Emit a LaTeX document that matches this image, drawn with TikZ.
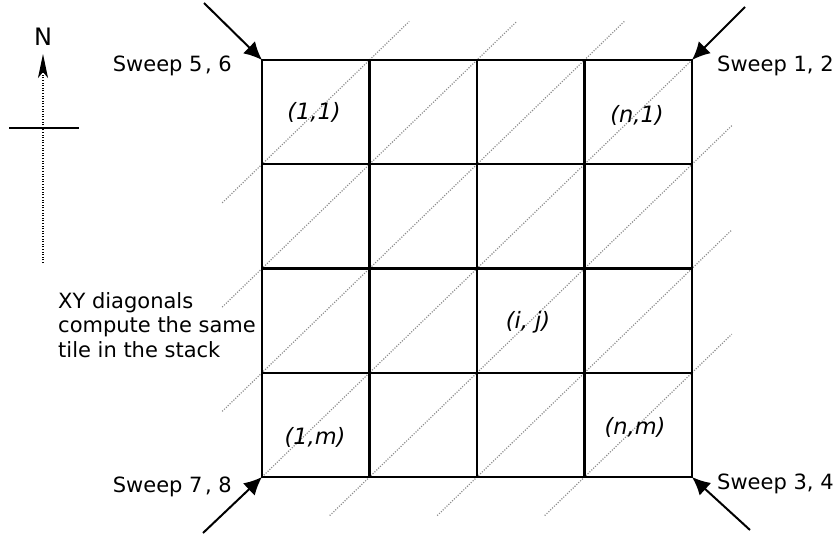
\documentclass[tikz,border=0pt]{standalone}
\usepackage{fontspec}
\setmainfont{DejaVu Sans}
\usetikzlibrary{arrows.meta}
\begin{document}
\tikzset{
  gridline/.style={line width=2.1pt, black},
  diagline/.style={black!45, line width=1.2pt, dash pattern=on 1.1pt off 1.5pt},
  sweeparrow/.style={line width=2pt, -{Latex[length=18pt,width=17pt]}},
  lbl/.style={font=\fontsize{21}{24.7}\selectfont, inner sep=0pt},
  celllbl/.style={font=\fontsize{22.5}{26}\selectfont\itshape, inner sep=0pt},
  compassline/.style={line width=1.5pt, black},
}
\begin{tikzpicture}[x=1pt,y=-1pt]
\useasboundingbox (0,0) rectangle (839,538);
% diagonals (cell coordinates)
\begin{scope}[shift={(262,60)}, x=107.5pt, y=-104.25pt]
  \draw[diagline] (-0.37,1.37) -- (1.37,-0.37);
  \draw[diagline] (-0.37,2.37) -- (2.37,-0.37);
  \draw[diagline] (-0.37,3.37) -- (3.37,-0.37);
  \draw[diagline] (0,4) -- (4,0);
  \draw[diagline] (0.63,4.37) -- (4.37,0.63);
  \draw[diagline] (1.63,4.37) -- (4.37,1.63);
  \draw[diagline] (2.63,4.37) -- (4.37,2.63);
  % grid
  \foreach \i in {0,...,4} {
    \draw[gridline] (\i,0) -- (\i,4);
    \draw[gridline] (0,\i) -- (4,\i);
  }
  \draw[gridline] (0,0) rectangle (4,4);
  \coordinate (TL) at (0,0);
  \coordinate (TR) at (4,0);
  \coordinate (BL) at (0,4);
  \coordinate (BR) at (4,4);
\end{scope}
% cell labels
\node[celllbl] (c11) at (314,112) {(1,1)};
\node[celllbl] (cn1) at (637,115) {(n,1)};
\node[celllbl] (cij) at (528,322) {(i, j)};
\node[celllbl] (c1m) at (315,437) {(1,m)};
\node[celllbl] (cnm) at (635,427) {(n,m)};
% sweep arrows
\coordinate (s56) at (204,3);
\coordinate (s12) at (745,7);
\coordinate (s34) at (750,530);
\coordinate (s78) at (203,533);
\draw[sweeparrow] (s56) -- (TL);
\draw[sweeparrow] (s12) -- (TR);
\draw[sweeparrow] (s34) -- (BR);
\draw[sweeparrow] (s78) -- (BL);
\node[lbl, anchor=base east] (l56) at (232,71) {Sweep 5\kern0.12em, 6};
\node[lbl, anchor=base west] (l12) at (717,71) {Sweep 1, 2};
\node[lbl, anchor=base west] (l34) at (717,489) {Sweep 3, 4};
\node[lbl, anchor=base east] (l78) at (232,492) {Sweep 7\kern0.12em, 8};
% text
\node[lbl, anchor=north west, align=left] (xy) at (58,292) {XY diagonals\\compute the same\\tile in the stack};
% compass
\node[font=\fontsize{24}{28}\selectfont, inner sep=0pt] (N) at (43,37) {N};
\coordinate (cS) at (43,263);
\coordinate (cN) at (43,54);
\coordinate (cW) at (9,128);
\coordinate (cE) at (79,128);
\draw[compassline, dash pattern=on 1.1pt off 1.5pt, -{Stealth[length=24pt,width=10pt,inset=6pt]}] (cS) -- (cN);
\draw[compassline] (cW) -- (cE);
\end{tikzpicture}
\end{document}
